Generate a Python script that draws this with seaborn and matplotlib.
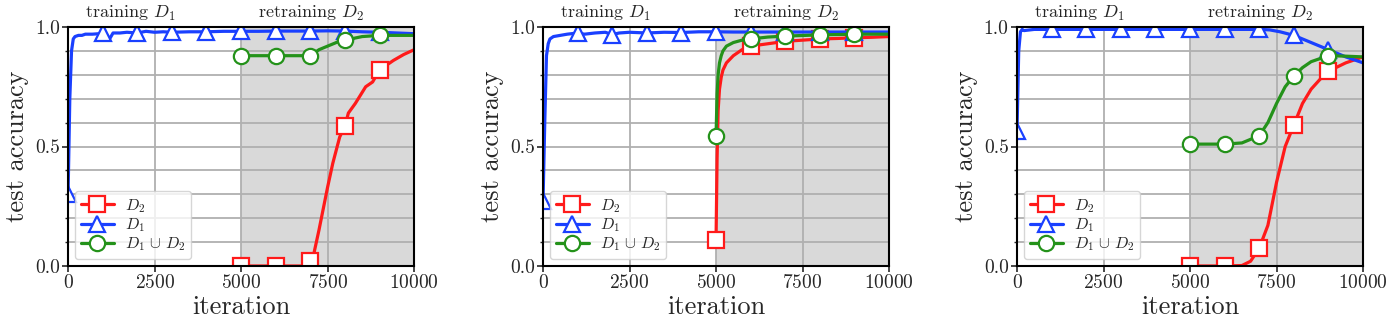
import numpy as np
import pandas as pd
import seaborn as sns
import matplotlib.pyplot as plt
from matplotlib.ticker import MultipleLocator

# ---- data (iteration, test accuracy) ----
# panel 1
p1_d1_it = [0, 50, 100, 150, 200, 300, 400, 500, 700, 1000, 1100, 1200, 1300, 1500, 1700, 2000,
            2250, 2500, 2750, 3000, 3500, 4000, 4500, 5000, 5500, 6000, 6500, 7000, 7500, 8000,
            8500, 9000, 9500, 10000]
p1_d1_acc = [0.30, 0.70, 0.90, 0.95, 0.96, 0.965, 0.965, 0.97, 0.97, 0.973, 0.97, 0.95, 0.975,
             0.975, 0.978, 0.975, 0.982, 0.978, 0.98, 0.978, 0.98, 0.98, 0.982, 0.982, 0.982,
             0.983, 0.983, 0.983, 0.984, 0.983, 0.98, 0.978, 0.975, 0.972]
p1_d2_it = [5000, 5500, 6000, 6500, 6800, 7000, 7100, 7250, 7500, 7650, 7850, 8000, 8100, 8300,
            8600, 8800, 9000, 9200, 9400, 9700, 10000]
p1_d2_acc = [0.0, 0.0, 0.0, 0.0, 0.0, 0.02, 0.05, 0.15, 0.33, 0.43, 0.54, 0.585, 0.64, 0.68,
             0.75, 0.77, 0.82, 0.84, 0.86, 0.885, 0.905]
p1_u_it = [5000, 5500, 6000, 6500, 7000, 7250, 7500, 7750, 8000, 8500, 9000, 9500, 10000]
p1_u_acc = [0.88, 0.88, 0.88, 0.88, 0.88, 0.905, 0.92, 0.935, 0.945, 0.96, 0.965, 0.965, 0.965]

# panel 2
p2_d1_it = [0, 50, 100, 150, 200, 300, 500, 700, 1000, 1200, 1500, 1800, 2000, 2200, 2500, 3000,
            3500, 4000, 4500, 5000, 5500, 6000, 7000, 8000, 9000, 10000]
p2_d1_acc = [0.27, 0.60, 0.88, 0.93, 0.95, 0.96, 0.965, 0.97, 0.975, 0.97, 0.975, 0.978, 0.968,
             0.975, 0.978, 0.975, 0.978, 0.977, 0.98, 0.98, 0.979, 0.979, 0.979, 0.979, 0.979,
             0.979]
p2_d2_it = [5000, 5030, 5060, 5100, 5150, 5200, 5300, 5500, 5750, 6000, 6500, 7000, 7500, 8000,
            8500, 9000, 9500, 10000]
p2_d2_acc = [0.11, 0.45, 0.65, 0.74, 0.79, 0.82, 0.85, 0.88, 0.905, 0.92, 0.93, 0.94, 0.945,
             0.95, 0.952, 0.955, 0.957, 0.96]
p2_u_it = [5000, 5030, 5060, 5100, 5150, 5200, 5300, 5500, 5750, 6000, 6500, 7000, 8000, 9000,
           10000]
p2_u_acc = [0.545, 0.72, 0.80, 0.85, 0.88, 0.90, 0.92, 0.935, 0.945, 0.95, 0.958, 0.962, 0.967,
            0.97, 0.97]

# panel 3
p3_d1_it = [0, 50, 100, 150, 200, 500, 1000, 2000, 3000, 4000, 5000, 6000, 7000, 7300, 7600,
            8000, 8500, 9000, 9500, 10000]
p3_d1_acc = [0.565, 0.90, 0.98, 0.99, 0.985, 0.99, 0.99, 0.99, 0.99, 0.99, 0.99, 0.99, 0.99,
             0.988, 0.98, 0.965, 0.935, 0.905, 0.875, 0.85]
p3_d2_it = [5000, 5500, 6000, 6500, 6750, 7000, 7250, 7500, 7750, 8000, 8250, 8500, 8750, 9000,
            9500, 10000]
p3_d2_acc = [0.0, 0.0, 0.0, 0.002, 0.02, 0.075, 0.17, 0.35, 0.50, 0.59, 0.68, 0.74, 0.78, 0.815,
             0.85, 0.875]
p3_u_it = [5000, 5500, 6000, 6500, 7000, 7250, 7500, 7750, 8000, 8250, 8500, 9000, 9500, 10000]
p3_u_acc = [0.51, 0.51, 0.51, 0.515, 0.545, 0.60, 0.68, 0.75, 0.795, 0.83, 0.855, 0.88, 0.878,
            0.875]

panels = [
    [(p1_d2_it, p1_d2_acc), (p1_d1_it, p1_d1_acc), (p1_u_it, p1_u_acc)],
    [(p2_d2_it, p2_d2_acc), (p2_d1_it, p2_d1_acc), (p2_u_it, p2_u_acc)],
    [(p3_d2_it, p3_d2_acc), (p3_d1_it, p3_d1_acc), (p3_u_it, p3_u_acc)],
]
labels = [r'$D_2$', r'$D_1$', r'$D_1 \,\cup\, D_2$']
colors = ['#ff1a1a', '#1a40ff', '#24921a']
markers = ['s', '^', 'o']

sns.set_style('ticks')
plt.rcParams['font.family'] = ['cmr10']
plt.rcParams['mathtext.fontset'] = 'cm'
plt.rcParams['axes.formatter.use_mathtext'] = True

fig = plt.figure(figsize=(13.92, 3.25), dpi=100)
lefts = [0.0489, 0.3901, 0.7306]
for k, series in enumerate(panels):
    ax = fig.add_axes([lefts[k], 0.1815, 0.2486, 0.7354])
    ax.axvspan(5000, 10000, color='#d9d9d9', zorder=0, lw=0)
    for (it, acc), lab, c, m in zip(series, labels, colors, markers):
        df = pd.DataFrame({'iteration': it, 'acc': acc})
        # markers every 1000 iterations
        mk = [i for i, v in enumerate(it) if v % 1000 == 0 and v < 10000]
        sns.lineplot(data=df, x='iteration', y='acc', ax=ax, color=c, lw=2.3,
                     marker=m, markevery=mk, markersize=11, markerfacecolor='white',
                     markeredgecolor=c, markeredgewidth=1.6, label=lab, sort=False)
    ax.set_xlim(0, 10000)
    ax.set_ylim(0, 1)
    ax.set_xticks([0, 2500, 5000, 7500, 10000])
    ax.set_yticks([0.0, 0.5, 1.0])
    ax.set_yticklabels(['0.0', '0.5', '1.0'])
    ax.yaxis.set_minor_locator(MultipleLocator(0.1))
    ax.grid(True, axis='x', which='major', color='#b0b0b0', lw=1.3)
    ax.grid(True, axis='y', which='both', color='#b0b0b0', lw=1.3)
    ax.tick_params(axis='both', which='major', labelsize=14, length=4, width=1.2, direction='out',
                   pad=2)
    ax.tick_params(axis='y', which='minor', length=2.5, width=1.0, direction='out')
    for s in ax.spines.values():
        s.set_color('black')
        s.set_linewidth(1.5)
    ax.set_xlabel('iteration', fontsize=19, labelpad=2)
    ax.set_ylabel('test accuracy', fontsize=19, labelpad=4)
    ax.text(500, 1.015, r'training $D_1$', fontsize=13, ha='left', va='bottom')
    ax.text(5500, 1.015, r'retraining $D_2$', fontsize=13, ha='left', va='bottom')
    ax.legend(loc='lower left', fontsize=11.5, numpoints=1, handlelength=2.05,
              handletextpad=0.7, borderpad=0.35, labelspacing=0.1, borderaxespad=0.45,
              fancybox=True, framealpha=0.8)

fig.savefig('out.png', dpi=100)
